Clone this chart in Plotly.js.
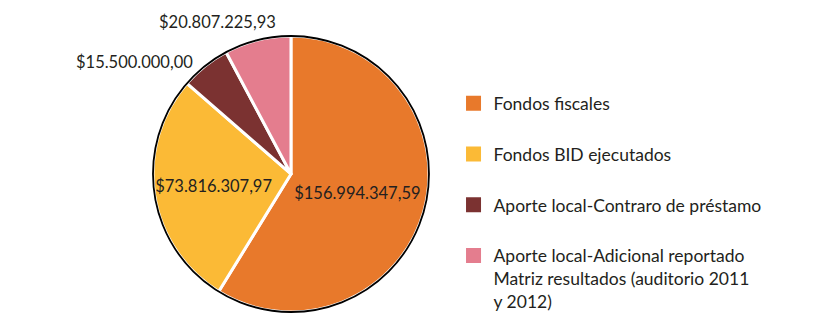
<!DOCTYPE html>
<html>
<head>
<meta charset="utf-8">
<script src="https://cdn.plot.ly/plotly-3.0.1.min.js"></script>
<style>html,body{margin:0;padding:0;background:#fff;}#chart{width:827px;height:318px;}</style>
</head>
<body>
<div id="chart"></div>
<script>
const categories = ["Fondos fiscales", "Fondos BID ejecutados", "Aporte local-Contraro de préstamo", "Aporte local-Adicional reportado<br>Matriz resultados (auditorio 2011<br>y 2012)"];
const values = [156994347.59, 73816307.97, 15500000.00, 20807225.93];
const valueLabels = ["$156.994.347,59", "$73.816.307,97", "$15.500.000,00", "$20.807.225,93"];
const colors = ["#E8792B", "#FBBA36", "#7B3231", "#E47D8E"];
const textPositions = ["inside", "inside", "none", "none"];

const FONT = "Lato, 'Open Sans', sans-serif";
const TXT = "#231f20";
const domain = {x: [0.185, 0.5187], y: [0.0189, 0.8868]};

const traces = [{
  type: "pie",
  labels: categories,
  values: values,
  text: valueLabels,
  textinfo: "text",
  textposition: textPositions,
  insidetextorientation: "horizontal",
  sort: false,
  direction: "clockwise",
  rotation: 0,
  marker: {colors: colors, line: {color: "#ffffff", width: 3}},
  textfont: {family: FONT, size: 16.5, color: TXT},
  showlegend: false,
  domain: domain,
  hoverinfo: "label+text"
}, {
  type: "pie",
  values: [1],
  labels: ["outline"],
  textinfo: "none",
  marker: {colors: ["rgba(0,0,0,0)"], line: {color: "#000000", width: 1.8}},
  showlegend: false,
  hoverinfo: "skip",
  domain: domain
}];

categories.forEach((c, i) => {
  traces.push({
    type: "scatter",
    mode: "markers",
    x: [null], y: [null],
    name: c,
    legendgroup: "g" + i,
    marker: {symbol: "square", size: 15, color: colors[i]},
    showlegend: true,
    hoverinfo: "skip"
  });
});

// labels of the two small slices, placed outside the pie
const outsideLabelPos = [[0.1632, 0.805], [0.2636, 0.9308]];
const annotations = [2, 3].map((idx, k) => ({
  xref: "paper", yref: "paper",
  x: outsideLabelPos[k][0], y: outsideLabelPos[k][1],
  xanchor: "center", yanchor: "middle",
  text: valueLabels[idx],
  showarrow: false,
  font: {family: FONT, size: 16.5, color: TXT}
}));

const layout = {
  width: 827, height: 318,
  margin: {l: 0, r: 0, t: 0, b: 0, autoexpand: false},
  paper_bgcolor: "#ffffff",
  plot_bgcolor: "#ffffff",
  showlegend: true,
  xaxis: {visible: false},
  yaxis: {visible: false},
  annotations: annotations,
  legend: {
    x: 0.5484, xanchor: "left",
    y: 0.7315, yanchor: "top",
    font: {family: FONT, size: 17.5, color: TXT},
    tracegroupgap: 25,
    valign: "top",
    bgcolor: "rgba(0,0,0,0)"
  }
};

Plotly.newPlot("chart", traces, layout, {displayModeBar: false, staticPlot: true});
</script>
</body>
</html>
